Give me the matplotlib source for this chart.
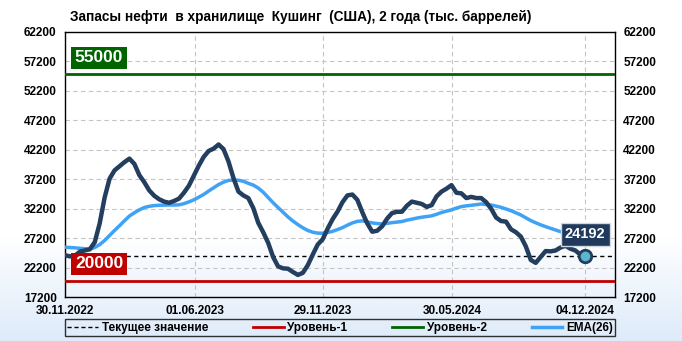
import numpy as np
import pandas as pd
import matplotlib
matplotlib.use("Agg")
import matplotlib.pyplot as plt
import matplotlib.dates as mdates
import matplotlib.transforms as mtransforms
from matplotlib.lines import Line2D

# =========================
# 1. DONNEES
# =========================
title = "Запасы нефти  в хранилище  Кушинг  (США), 2 года (тыс. баррелей)"
start_date = "2022-11-30"

stocks = [24300, 24100, 24200, 24900, 25100, 25300, 26500, 29700, 34100, 37300,
          38700, 39400, 40100, 40700, 39800, 37900, 36700, 35300, 34400, 33800,
          33400, 33200, 33500, 33900, 34900, 36100, 37800, 39500, 41000, 42000,
          42400, 43100, 42300, 40200, 37400, 35100, 34450, 34000, 32300, 29800,
          28200, 26400, 24000, 22400, 22070, 22000, 21450, 20950, 21300, 22600,
          24400, 26100, 27000, 28800, 30400, 31700, 33300, 34450, 34600, 33700,
          31600, 29700, 28290, 28450, 29200, 30500, 31450, 31670, 31680, 32700,
          33400, 33200, 33000, 32500, 32800, 34300, 35100, 35600, 36200, 34900,
          34800, 34000, 34200, 34000, 34000, 33300, 32200, 30700, 30100, 30000,
          28700, 28200, 27450, 25800, 23500, 23000, 24000, 25000, 24950, 25100,
          25600, 25900, 25400, 25100, 24400, 24192]

ema26 = [25650, 25600, 25550, 25470, 25400, 25360, 25600, 26100, 26800, 27650,
         28500, 29300, 30150, 30950, 31500, 32000, 32400, 32600, 32720, 32780,
         32800, 32820, 32820, 32850, 33050, 33350, 33700, 34150, 34620, 35200,
         35750, 36300, 36700, 37000, 37050, 37030, 36850, 36500, 36200, 35700,
         35000, 34100, 33200, 32400, 31600, 30800, 30100, 29500, 28950, 28500,
         28200, 28050, 28020, 28150, 28350, 28650, 28980, 29400, 29780, 30050,
         30130, 29950, 29780, 29680, 29600, 29700, 29830, 29920, 30020, 30250,
         30420, 30600, 30750, 30860, 30980, 31250, 31550, 31780, 32000, 32300,
         32550, 32680, 32770, 32880, 32990, 32900, 32820, 32630, 32430, 32150,
         31860, 31500, 31130, 30650, 30180, 29800, 29450, 29150, 28860, 28580,
         28300, 28050, 27800, 27550, 27300, 27050]

level_1 = 20000
level_2 = 55000
y_ticks = [17200, 22200, 27200, 32200, 37200, 42200, 47200, 52200, 57200, 62200]
x_tick_dates = ["2022-11-30", "2023-06-01", "2023-11-29", "2024-05-30", "2024-12-04"]
legend_labels = ["Текущее значение", "Уровень-1", "Уровень-2", "EMA(26)"]

dates = pd.date_range(start_date, periods=len(stocks), freq="7D")
current = stocks[-1]

# =========================
# 2. STYLE
# =========================
plt.rcParams["font.family"] = ["Liberation Sans", "DejaVu Sans"]
plt.rcParams["font.weight"] = "bold"

c_main = "#233e5f"
c_ema = "#3fa2f5"
c_red = "#c00000"
c_green = "#006400"

W, H = 682, 341
fig = plt.figure(figsize=(W / 100, H / 100), dpi=100)
fig.patch.set_edgecolor("black")
fig.patch.set_linewidth(1.5)

# fond degrade (blanc -> bleu clair en bas)
bg = fig.add_axes([0, 0, 1, 1], zorder=-10)
grad = np.ones((H, 1, 3))
rows = np.arange(H)
t = np.clip((rows - 235) / (H - 235), 0, 1)[:, None]
grad[:, 0, :] = (1 - t) * np.array([1, 1, 1]) + t * np.array([0.87, 0.92, 0.98])
bg.imshow(grad, aspect="auto", extent=[0, 1, 0, 1], origin="upper")
bg.axis("off")

ax = fig.add_axes([65 / W, 1 - 297 / H, 550 / W, 265 / H])
ax.patch.set_alpha(0)

# =========================
# 3. COURBES
# =========================
ax.axhline(current, color="black", lw=1, ls=(0, (3, 2.5)), zorder=3)
ax.axhline(level_1, color=c_red, lw=2, zorder=3)
ax.axhline(level_2, color=c_green, lw=2, zorder=3)
ax.plot(dates, ema26, color=c_ema, lw=2.5, zorder=4, solid_capstyle="round")
ax.plot(dates, stocks, color=c_main, lw=3.2, zorder=5, solid_joinstyle="round")
ax.plot(dates[-1], current, "o", ms=9, mfc="#5bb7cc", mec=c_main, mew=2, zorder=6)

# =========================
# 4. AXES
# =========================
ax.set_ylim(17200, 62200)
ax.set_xlim(pd.Timestamp(start_date), pd.Timestamp(start_date) + pd.Timedelta(days=777))
ax.set_yticks(y_ticks)
ax.set_xticks([pd.Timestamp(d) for d in x_tick_dates])
ax.xaxis.set_major_formatter(mdates.DateFormatter("%d.%m.%Y"))
ax.tick_params(axis="both", length=0, labelsize=8.5)
ax.tick_params(axis="y", labelright=True, pad=6)
ax.tick_params(axis="x", pad=6)
ax.grid(True, color="#c4c4c4", ls=(0, (4, 3)), lw=0.8)
for s in ax.spines.values():
    s.set_color("black")
    s.set_linewidth(1)

fig.text(70 / W, 1 - 17 / H, title, fontsize=9.8, fontweight="bold", va="center")

# =========================
# 5. ETIQUETTES
# =========================
trans = mtransforms.blended_transform_factory(ax.transAxes, ax.transData)
for lvl, col in [(level_2, c_green), (level_1, c_red)]:
    ax.annotate(str(lvl), xy=(0.018, lvl), xycoords=trans, xytext=(0, 6.5),
                textcoords="offset points", fontsize=12.5, color="white",
                fontweight="bold", va="bottom", ha="left", zorder=7,
                bbox=dict(boxstyle="square,pad=0.2", fc=col, ec="none"))

ax.annotate(str(current), xy=(dates[-1], current), xytext=(0, 15.5),
            textcoords="offset points", fontsize=10.5, color="white",
            fontweight="bold", va="center", ha="center", zorder=8,
            bbox=dict(boxstyle="square,pad=0.3", fc="#1f3a5c", ec="#d0d8e0", lw=1))

# =========================
# 6. LEGENDE
# =========================
handles = [Line2D([], [], color="black", lw=1, ls=(0, (3, 2))),
           Line2D([], [], color=c_red, lw=2),
           Line2D([], [], color=c_green, lw=2),
           Line2D([], [], color=c_ema, lw=2.5)]
leg = fig.legend(handles, legend_labels, ncol=4, mode="expand",
                 bbox_to_anchor=(65 / W, 5 / H, 550 / W, 17 / H), loc="lower left",
                 fontsize=8.5, frameon=True, fancybox=False, handlelength=2.6,
                 handletextpad=0.3, borderpad=0.2, borderaxespad=0)
leg.get_frame().set_edgecolor("black")
leg.get_frame().set_linewidth(1)
leg.get_frame().set_facecolor("none")

fig.savefig("out.png", dpi=100)
